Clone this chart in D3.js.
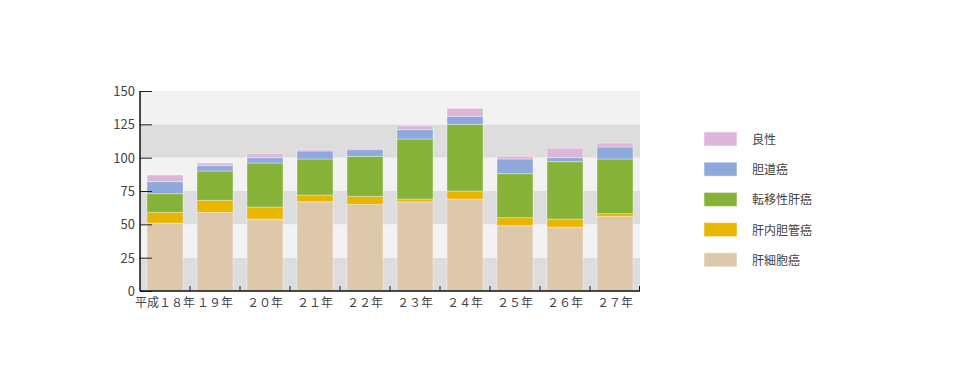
<!DOCTYPE html>
<html>
<head>
<meta charset="utf-8">
<script src="https://d3js.org/d3.v7.min.js"></script>
<style>
  body { margin: 0; background: #fff; }
  #chart { width: 962px; height: 384px; }
  text { font-family: "Noto Sans CJK JP", "Noto Sans", sans-serif; fill: #444; }
</style>
</head>
<body>
<div id="chart"></div>
<script>
  // years and series (stack order bottom -> top)
  const years = ['平成１８年', '１９年', '２０年', '２１年', '２２年', '２３年', '２４年', '２５年', '２６年', '２７年'];
  const seriesNames = ['肝細胞癌', '肝内胆管癌', '転移性肝癌', '胆道癌', '良性'];
  const colors = ['#dec8ab', '#e8b500', '#86b337', '#8fa8db', '#ddb7d8'];

  const hcc     = [51, 59, 54, 67, 65, 67, 69, 49, 48, 56];
  const icc     = [8, 9, 9, 5, 6, 2, 6, 6, 6, 2];
  const meta    = [14, 22, 33, 27, 30, 45, 50, 33, 43, 41];
  const biliary = [9, 4, 4, 6, 5, 7, 6, 11, 3, 9];
  const benign  = [5, 2, 3, 1, 1, 3, 6, 2, 7, 3];

  const yTicks = [0, 25, 50, 75, 100, 125, 150];

  const values = [hcc, icc, meta, biliary, benign];
  const table = years.map((y, i) => {
    const row = { year: y };
    seriesNames.forEach((s, k) => row[s] = values[k][i]);
    return row;
  });
  const stacked = d3.stack().keys(seriesNames)(table);

  const width = 962, height = 384;
  const margin = { left: 140, top: 91, right: 322, bottom: 93 };
  const svg = d3.select('#chart').append('svg').attr('width', width).attr('height', height);

  const x = d3.scaleBand().domain(years).range([margin.left, width - margin.right]).paddingInner(0.28).paddingOuter(0.14);
  const xb = d3.scaleBand().domain(years).range([margin.left, width - margin.right]);
  const y = d3.scaleLinear().domain([0, 150]).range([height - margin.bottom, margin.top]);

  // background bands
  svg.append('g').selectAll('rect')
    .data(yTicks.slice(0, -1))
    .enter().append('rect')
    .attr('x', margin.left)
    .attr('width', width - margin.right - margin.left)
    .attr('y', d => y(d + 25))
    .attr('height', d => y(d) - y(d + 25))
    .attr('fill', (d, i) => i % 2 === 0 ? '#dddddd' : '#f2f2f2');

  // bars
  svg.append('g').selectAll('g')
    .data(stacked)
    .enter().append('g')
    .attr('fill', (d, i) => colors[i])
    .selectAll('rect')
    .data(d => d)
    .enter().append('rect')
    .attr('x', d => x(d.data.year))
    .attr('width', x.bandwidth())
    .attr('y', d => y(d[1]))
    .attr('height', d => y(d[0]) - y(d[1]))
    .attr('stroke', 'rgba(255,255,255,0.35)')
    .attr('stroke-width', 1);

  // y axis
  const yAxis = svg.append('g')
    .attr('transform', `translate(${margin.left},0)`)
    .call(d3.axisRight(y).tickValues(yTicks).tickSize(12).tickFormat(''));
  yAxis.select('.domain').remove();
  yAxis.selectAll('line').attr('stroke', '#222');
  svg.append('line')
    .attr('x1', margin.left).attr('x2', margin.left)
    .attr('y1', y(150)).attr('y2', y(0))
    .attr('stroke', '#111').attr('stroke-width', 1.5);
  svg.append('g').selectAll('text')
    .data(yTicks)
    .enter().append('text')
    .attr('x', margin.left - 5)
    .attr('y', d => y(d) + 5)
    .attr('text-anchor', 'end')
    .attr('font-size', 13)
    .text(d => d);

  // x axis
  svg.append('line')
    .attr('x1', margin.left).attr('x2', width - margin.right)
    .attr('y1', y(0)).attr('y2', y(0))
    .attr('stroke', '#111').attr('stroke-width', 1.5);
  svg.append('g').selectAll('line')
    .data(years.slice(1).concat(['end']))
    .enter().append('line')
    .attr('x1', d => d === 'end' ? width - margin.right - 0.5 : xb(d))
    .attr('x2', d => d === 'end' ? width - margin.right - 0.5 : xb(d))
    .attr('y1', y(0)).attr('y2', y(0) - 5)
    .attr('stroke', '#222');
  svg.append('g').selectAll('text')
    .data(years)
    .enter().append('text')
    .attr('x', d => xb(d) + xb.bandwidth() / 2)
    .attr('y', y(0) + 16)
    .attr('text-anchor', 'middle')
    .attr('font-size', 12)
    .text(d => d);

  // legend (top item = top of stack)
  const legend = svg.append('g').selectAll('g')
    .data(seriesNames.slice().reverse())
    .enter().append('g')
    .attr('transform', (d, i) => `translate(704,${132 + i * 30.2})`);
  legend.append('rect')
    .attr('width', 33).attr('height', 14)
    .attr('fill', d => colors[seriesNames.indexOf(d)])
    .attr('stroke', 'rgba(255,255,255,0.5)');
  legend.append('text')
    .attr('x', 48).attr('y', 12)
    .attr('font-size', 12)
    .text(d => d);
</script>
</body>
</html>
